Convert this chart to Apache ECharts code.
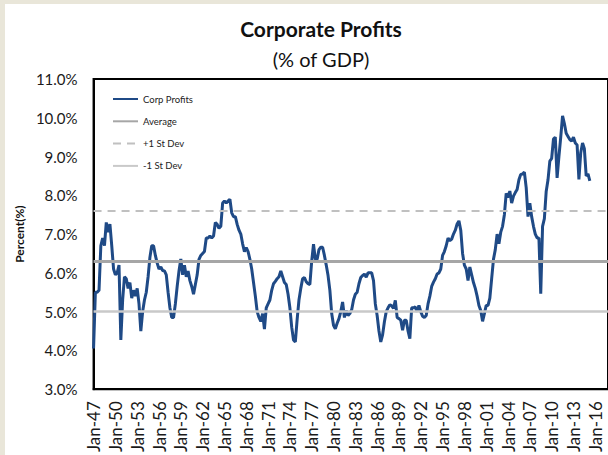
<!DOCTYPE html>
<html>
<head>
<meta charset="utf-8">
<script src="https://cdn.jsdelivr.net/npm/echarts@6/dist/echarts.min.js"></script>
<style>
  html, body { margin: 0; padding: 0; background: #E9E6D9; }
  #main { position: absolute; left: 5px; top: 4px; width: 603px; height: 451px; background: #fff; }
</style>
</head>
<body>
<div id="main"></div>
<script>
// quarterly corporate profits, % of GDP, Q1 1947 .. Q2 2015
var corpProfits = [
  4.05, 5.5, 5.5, 5.55, 6.7, 6.9, 6.7, 7.3, 7.05, 7.26,
  6.7, 6.1, 5.95, 6.0, 6.2, 4.27, 5.3, 5.9, 5.85, 5.6,
  5.75, 5.35, 5.55, 5.4, 5.6, 5.2, 4.5, 5.0, 5.3, 5.5,
  5.9, 6.4, 6.7, 6.7, 6.45, 6.25, 6.1, 6.15, 6.06, 6.05,
  5.95, 5.5, 5.1, 4.85, 4.85, 5.2, 5.65, 6.05, 6.36, 5.95,
  6.2, 5.9, 6.05, 5.8, 5.65, 5.45, 5.7, 5.95, 6.35, 6.45,
  6.5, 6.55, 6.9, 6.9, 6.95, 6.9, 6.95, 7.3, 7.25, 7.15,
  7.2, 7.8, 7.85, 7.8, 7.85, 7.9, 7.55, 7.45, 7.45, 7.25,
  7.1, 7.0, 6.75, 6.55, 6.65, 6.55, 6.35, 6.1, 5.75, 5.4,
  5.0, 4.85, 4.75, 4.95, 4.55, 5.1, 5.2, 5.3, 5.55, 5.72,
  5.78, 5.85, 5.9, 6.05, 5.9, 5.75, 5.7, 5.45, 5.1, 4.6,
  4.27, 4.22, 4.8, 5.3, 5.6, 5.85, 5.88, 5.77, 5.72, 5.7,
  6.3, 6.74, 6.35, 6.35, 6.6, 6.66, 6.66, 6.45, 6.2, 5.93,
  5.55, 4.95, 4.65, 4.56, 4.7, 4.82, 5.0, 5.25, 4.85, 5.03,
  4.9, 4.95, 5.05, 5.3, 5.45, 5.5, 5.72, 5.88, 5.93, 5.97,
  5.89, 6.0, 6.0, 6.0, 5.8, 5.2, 4.9, 4.5, 4.22, 4.4,
  4.74, 5.0, 5.1, 5.18, 5.15, 5.08, 5.29, 4.85, 4.82, 4.78,
  4.52, 4.78, 4.78, 4.5, 4.3, 5.1, 5.1, 5.12, 5.0, 5.16,
  5.0, 4.88, 4.85, 4.9, 5.2, 5.4, 5.65, 5.76, 5.85, 5.97,
  6.0, 6.1, 6.45, 6.55, 6.7, 6.9, 6.83, 6.87, 7.0, 7.1,
  7.26, 7.34, 7.1, 6.5, 6.2, 6.1, 5.8, 6.15, 5.95, 5.75,
  5.6, 5.4, 5.16, 5.03, 4.75, 4.95, 5.16, 5.16, 5.35, 5.85,
  6.35, 6.6, 7.0, 6.75, 7.05, 7.2, 7.5, 8.05, 7.95, 8.11,
  7.8, 7.98, 8.07, 8.15, 8.4, 8.54, 8.55, 8.6, 8.2, 7.45,
  7.8, 7.45, 7.2, 7.0, 6.9, 6.9, 5.46, 7.2, 7.4, 8.1,
  8.4, 8.88, 8.95, 9.45, 9.5, 8.45, 9.0, 9.5, 10.05, 9.85,
  9.6, 9.52, 9.44, 9.4, 9.5, 9.35, 9.3, 8.41, 9.1, 9.35,
  9.2, 8.5, 8.55, 8.37
];
var average = 6.3;
var plusStDev = 7.6;
var minusStDev = 5.0;

var months = ['Jan', 'Apr', 'Jul', 'Oct'];
var firstYear = 1947;
var lastYear = 2017;   // axis runs a little past the data, off the right edge

var quarters = [];
for (var y = firstYear; y <= lastYear; y++) {
  for (var m = 0; m < months.length; m++) {
    quarters.push(months[m] + '-' + String(y).slice(2));
  }
}

var font = 'Lato, "Open Sans", sans-serif';
var chart = echarts.init(document.getElementById('main'), null, { renderer: 'svg' });

function refLine(name, value, color, width, type) {
  return {
    name: name,
    type: 'line',
    data: [],
    symbol: 'none',
    color: color,
    lineStyle: { color: color, width: width, type: type },
    markLine: {
      silent: true,
      symbol: 'none',
      label: { show: false },
      lineStyle: { color: color, width: width, type: type },
      data: [{ yAxis: value }]
    }
  };
}

var option = {
  animation: false,
  title: [{
    text: 'Corporate Profits',
    left: 311,
    top: 9,
    textAlign: 'center',
    textStyle: { fontFamily: font, fontSize: 21, fontWeight: 'bold', color: '#111' }
  }, {
    text: '(% of GDP)',
    left: 311,
    top: 40,
    textAlign: 'center',
    textStyle: { fontFamily: font, fontSize: 20, fontWeight: 'normal', color: '#111' }
  }],
  legend: {
    orient: 'vertical',
    left: 107,
    top: 90,
    padding: 0,
    itemWidth: 25,
    itemHeight: 10,
    itemGap: 12.3,
    itemStyle: { opacity: 0 },
    data: ['Corp Profits', 'Average', '+1 St Dev', '-1 St Dev'],
    textStyle: { fontFamily: font, fontSize: 9.5, color: '#222' }
  },
  grid: {
    left: 87,
    right: -3,
    top: 75,
    bottom: 64,
    show: true,
    borderColor: '#000',
    borderWidth: 2
  },
  xAxis: {
    type: 'category',
    boundaryGap: false,
    data: quarters,
    axisLine: { lineStyle: { color: '#000', width: 2 } },
    axisTick: { show: false },
    axisLabel: {
      interval: 11,
      rotate: 90,
      margin: 12,
      fontFamily: font,
      fontSize: 17,
      color: '#1a1a1a'
    },
    splitLine: { show: false }
  },
  yAxis: {
    type: 'value',
    min: 3,
    max: 11,
    interval: 1,
    name: 'Percent(%)',
    nameLocation: 'middle',
    nameGap: 63,
    nameTextStyle: { fontFamily: font, fontSize: 12, fontWeight: 'bold', color: '#111' },
    axisLine: { show: true, lineStyle: { color: '#000', width: 2 } },
    axisTick: { show: false },
    axisLabel: {
      margin: 16,
      fontFamily: font,
      fontSize: 15,
      color: '#1a1a1a',
      formatter: function (v) { return v.toFixed(1) + '%'; }
    },
    splitLine: { show: false }
  },
  series: [
    {
      name: 'Corp Profits',
      type: 'line',
      data: corpProfits,
      symbol: 'none',
      color: '#1F4A86',
      lineStyle: { color: '#1F4A86', width: 3 }
    },
    refLine('Average', average, '#A6A6A6', 3, 'solid'),
    refLine('+1 St Dev', plusStDev, '#C0C0C0', 2, [8, 6]),
    refLine('-1 St Dev', minusStDev, '#C9C9C9', 2.5, 'solid')
  ]
};
chart.setOption(option);
</script>
</body>
</html>
